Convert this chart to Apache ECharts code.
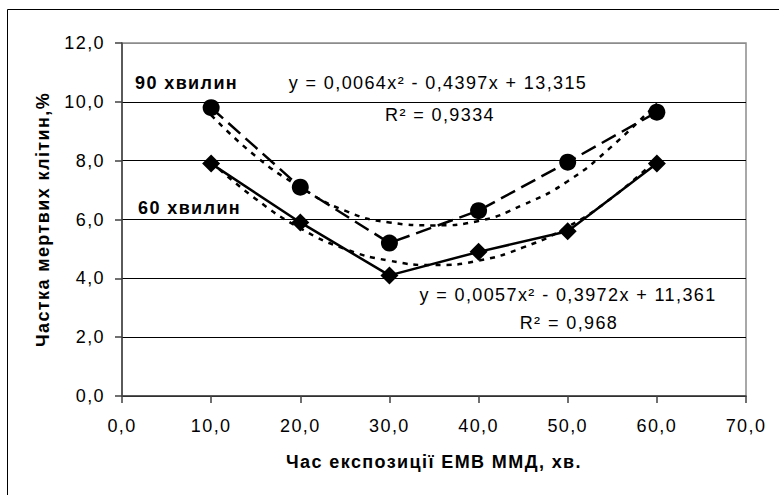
<!DOCTYPE html>
<html>
<head>
<meta charset="utf-8">
<script src="https://cdn.jsdelivr.net/npm/echarts@6/dist/echarts.min.js"></script>
<style>
  html, body { margin: 0; padding: 0; background: #fff; }
  #chart { width: 779px; height: 495px; }
  /* the source chart has wide, Excel-like letter spacing */
  #chart text { letter-spacing: 1.4px; }
</style>
</head>
<body>
<div id="chart"></div>
<script>
// exposure time, min
var times = [10, 20, 30, 40, 50, 60];
// share of dead cells, %
var dead90 = [9.8, 7.1, 5.2, 6.3, 7.95, 9.65];
var dead60 = [7.9, 5.9, 4.1, 4.9, 5.6, 7.9];
// trend lines
var trendX = [10, 15, 20, 25, 30, 35, 40, 45, 50, 55, 60];
var trend90 = [9.55, 8.15, 7.1, 6.3, 5.9, 5.8, 5.95, 6.5, 7.3, 8.5, 9.95];
var trend60 = [7.95, 6.7, 5.7, 5.0, 4.6, 4.45, 4.6, 5.05, 5.75, 6.75, 8.05];

var FONT = '"Liberation Sans", Arial, sans-serif';

function pairs(xs, ys) {
  return xs.map(function (x, i) { return [x, ys[i]]; });
}
function fmt(v) {
  return v.toFixed(1).replace('.', ',');
}

var chart = echarts.init(document.getElementById('chart'), null, { renderer: 'svg' });

chart.setOption({
  animation: false,
  backgroundColor: '#fff',
  grid: {
    left: 122, top: 43, right: 33, bottom: 99,
    show: true, borderColor: '#8c8c8c', borderWidth: 1.5
  },
  xAxis: {
    type: 'value', min: 0, max: 70, interval: 10,
    name: 'Час експозиції ЕМВ ММД, хв.',
    nameLocation: 'middle', nameGap: 57,
    nameTextStyle: { fontFamily: FONT, fontSize: 18, fontWeight: 'bold', color: '#000' },
    axisLine: { lineStyle: { color: '#404040', width: 1.5 } },
    axisTick: { show: true, length: 7, lineStyle: { color: '#404040', width: 1.5 } },
    axisLabel: { formatter: fmt, margin: 21, fontFamily: FONT, fontSize: 18, color: '#000' },
    splitLine: { show: false }
  },
  yAxis: {
    type: 'value', min: 0, max: 12, interval: 2,
    name: 'Частка мертвих клітин,%',
    nameLocation: 'middle', nameGap: 70,
    nameTextStyle: { fontFamily: FONT, fontSize: 18, fontWeight: 'bold', color: '#000' },
    axisLine: { show: true, lineStyle: { color: '#404040', width: 1.5 } },
    axisTick: { show: true, length: 7, lineStyle: { color: '#404040', width: 1.5 } },
    axisLabel: { formatter: fmt, margin: 17, fontFamily: FONT, fontSize: 18, color: '#000' },
    splitLine: {
      show: true,
      lineStyle: { color: ['#000', '#000', '#000', '#000', '#000', '#000', '#8c8c8c'], width: 1 }
    }
  },
  series: [
    {
      name: '90 хвилин тренд', type: 'line', smooth: true, showSymbol: false,
      data: pairs(trendX, trend90), z: 3,
      lineStyle: { color: '#000', width: 2.5, type: [5, 6] }
    },
    {
      name: '60 хвилин тренд', type: 'line', smooth: true, showSymbol: false,
      data: pairs(trendX, trend60), z: 3,
      lineStyle: { color: '#000', width: 2.5, type: [5, 6] }
    },
    {
      name: '90 хвилин', type: 'line', data: pairs(times, dead90), z: 4,
      symbol: 'circle', symbolSize: 17,
      itemStyle: { color: '#000' },
      lineStyle: { color: '#000', width: 2.5, type: [16, 7] }
    },
    {
      name: '60 хвилин', type: 'line', data: pairs(times, dead60), z: 4,
      symbol: 'diamond', symbolSize: 18,
      itemStyle: { color: '#000' },
      lineStyle: { color: '#000', width: 2.5 }
    }
  ],
  graphic: [
    { type: 'rect', shape: { x: 7.5, y: 9.5, width: 800, height: 600 },
      style: { fill: 'none', stroke: '#000', lineWidth: 1 }, z: -10, silent: true },
    { type: 'text', x: 135, y: 83,
      style: { text: '90 хвилин', font: 'bold 18px ' + FONT, fill: '#000', textVerticalAlign: 'middle' } },
    { type: 'text', x: 138, y: 208,
      style: { text: '60 хвилин', font: 'bold 18px ' + FONT, fill: '#000', textVerticalAlign: 'middle' } },
    { type: 'text', x: 438, y: 83,
      style: { text: 'y = 0,0064x² - 0,4397x + 13,315', font: '18px ' + FONT, fill: '#000', textAlign: 'center', textVerticalAlign: 'middle' } },
    { type: 'text', x: 440, y: 115,
      style: { text: 'R² = 0,9334', font: '18px ' + FONT, fill: '#000', textAlign: 'center', textVerticalAlign: 'middle' } },
    { type: 'text', x: 568, y: 295,
      style: { text: 'y = 0,0057x² - 0,3972x + 11,361', font: '18px ' + FONT, fill: '#000', textAlign: 'center', textVerticalAlign: 'middle' } },
    { type: 'text', x: 569, y: 323,
      style: { text: 'R² = 0,968', font: '18px ' + FONT, fill: '#000', textAlign: 'center', textVerticalAlign: 'middle' } }
  ]
});
</script>
</body>
</html>
